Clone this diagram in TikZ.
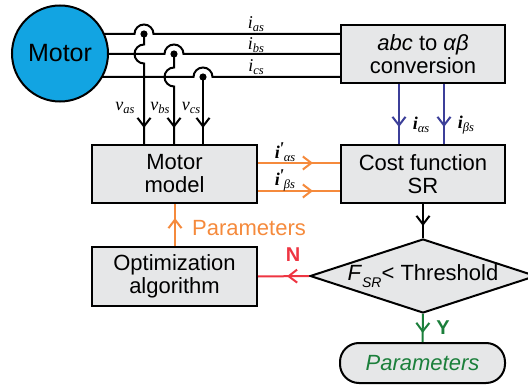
\documentclass[tikz,border=0pt]{standalone}
\usepackage{fontspec}
\setmainfont{Liberation Sans}
\newfontfamily\serfam{Liberation Serif}
\usetikzlibrary{arrows.meta,decorations.markings,shapes.geometric}
\definecolor{boxgray}{HTML}{E6E7E8}
\definecolor{motorblue}{HTML}{12A4E2}
\definecolor{lblue}{HTML}{3C3F99}
\definecolor{lorange}{HTML}{F58A3C}
\definecolor{lred}{HTML}{EE3542}
\definecolor{lgreen}{HTML}{1B7F3B}
\newcommand\lab[2]{{\serfam\itshape #1\raisebox{-0.35ex}{\fontsize{12.5}{12.5}\selectfont #2}}}
\newcommand\blab[2]{{\serfam\itshape\bfseries #1{\mdseries\raisebox{-0.35ex}{\fontsize{12.5}{12.5}\selectfont #2}}}}
\begin{document}
\begin{tikzpicture}[x=1pt,y=-1pt,
  blk/.style={draw=black, line width=2pt, fill=boxgray, minimum width=164pt, minimum height=58pt,
    align=center, font=\fontsize{22}{23}\selectfont, inner sep=0pt},
  wire/.style={line width=2pt},
  midarrow/.style={postaction={decorate}, decoration={markings,
    mark=at position #1 with {\arrow{Straight Barb[length=8.5pt,width=13pt,line width=2pt]}}}},
  lbl/.style={inner sep=0pt, font=\fontsize{18}{18}\selectfont}]
\useasboundingbox (0,0) rectangle (528,385);
% coordinates
\coordinate (pa) at (144,34);
\coordinate (pb) at (174,54);
\coordinate (pc) at (203,77);
\coordinate (ha1) at (144,44.5);
\coordinate (hb1) at (174,67.5);
\coordinate (xb1) at (399,0);
\coordinate (xb2) at (444,0);
\coordinate (yo1) at (0,163);
\coordinate (yo2) at (0,191);
\coordinate (xp) at (175,0);
% boxes
\node[blk] (abc) at (423,54) {\textit{abc} to \textit{αβ}\\conversion};
\node[blk, minimum width=165pt] (mm) at (174.5,174) {Motor\\model};
\node[blk] (cost) at (423,174) {Cost function\\SR};
\node[blk, minimum width=165pt, minimum height=59pt] (opt) at (174.5,276.5) {Optimization\\algorithm};
\node[diamond, draw, line width=2pt, fill=boxgray, aspect=3.05, minimum width=226pt, minimum height=74pt,
  inner sep=0pt, font=\fontsize{22}{23}\selectfont] (dia) at (423,276)
  {\textit{F}\raisebox{-0.35em}{\fontsize{14}{14}\selectfont\textit{SR}}< Threshold};
\node[draw, line width=2pt, fill=boxgray, rounded corners=19pt, minimum width=165pt, minimum height=40pt,
  inner sep=0pt, font=\fontsize{22}{23}\selectfont\itshape, text=lgreen] (par) at (422.5,363) {Parameters};
% three-phase wires
\draw[wire] (60,34) -- ([xshift=-9.5pt]pa) arc[start angle=180, end angle=0, radius=9.5pt] -- (abc.west |- pa);
\draw[wire] (60,54) -- ([xshift=-9.5pt]pb) arc[start angle=180, end angle=0, radius=9.5pt] -- (abc.west |- pb);
\draw[wire] (60,77) -- ([xshift=-9.5pt]pc) arc[start angle=180, end angle=0, radius=9.5pt] -- (abc.west |- pc);
\node[circle, draw, line width=2pt, fill=motorblue, minimum size=96pt, inner sep=0pt,
  font=\fontsize{25}{25}\selectfont] (motor) at (60,53.5) {Motor};
% voltage taps
\fill (pa) circle (3.6pt);
\fill (pb) circle (3.6pt);
\fill (pc) circle (3.6pt);
\draw[wire, midarrow=-16pt] (pa) -- (ha1) arc[start angle=90, end angle=270, radius=9.5pt] -- (mm.north -| pa);
\draw[wire, midarrow=-16pt] (pb) -- (hb1) arc[start angle=90, end angle=270, radius=9.5pt] -- (mm.north -| pb);
\draw[wire, midarrow=-16pt] (pc) -- (mm.north -| pc);
% labels on wires
\node[lbl] (lia) at (256,24) {\lab{i}{as}};
\node[lbl] (lib) at (256,45) {\lab{i}{bs}};
\node[lbl] (lic) at (256,67) {\lab{i}{cs}};
\node[lbl] (lva) at (125,108) {\lab{v}{as}};
\node[lbl] (lvb) at (160,108) {\lab{v}{bs}};
\node[lbl] (lvc) at (191,108) {\lab{v}{cs}};
% alpha-beta currents
\draw[wire, lblue, midarrow=-17pt] (abc.south -| xb1) -- (cost.north -| xb1);
\draw[wire, lblue, midarrow=-17pt] (abc.south -| xb2) -- (cost.north -| xb2);
\node[lbl] (lial) at (421,125) {\blab{i}{αs}};
\node[lbl] (libe) at (466,125) {\blab{i}{βs}};
% estimated currents
\draw[wire, lorange, midarrow=-27pt] (mm.east |- yo1) -- (cost.west |- yo1);
\draw[wire, lorange, midarrow=-27pt] (mm.east |- yo2) -- (cost.west |- yo2);
\node[lbl] (lial2) at (285,152) {\blab{i\kern-1pt\raisebox{0.5ex}{'}}{αs}};
\node[lbl] (libe2) at (285,180) {\blab{i\kern-1pt\raisebox{0.5ex}{'}}{βs}};
% parameters feedback
\draw[wire, lorange, midarrow=-14pt] (opt.north -| xp) -- (mm.south -| xp);
\node[inner sep=0pt, text=lorange, font=\fontsize{22}{22}\selectfont] (lpar) at (249,228) {Parameters};
% decision
\draw[wire, midarrow=-12pt] (cost.south) -- (dia.north);
\draw[wire, lred, midarrow=-29pt] (dia.west) -- (opt.east);
\node[inner sep=0pt, text=lred, font=\fontsize{20}{20}\selectfont\bfseries] (ln) at (293,255) {N};
\draw[wire, lgreen, midarrow=-9pt] (dia.south) -- (par.north);
\node[inner sep=0pt, text=lgreen, font=\fontsize{20}{20}\selectfont\bfseries] (ly) at (443,328) {Y};
\end{tikzpicture}
\end{document}
